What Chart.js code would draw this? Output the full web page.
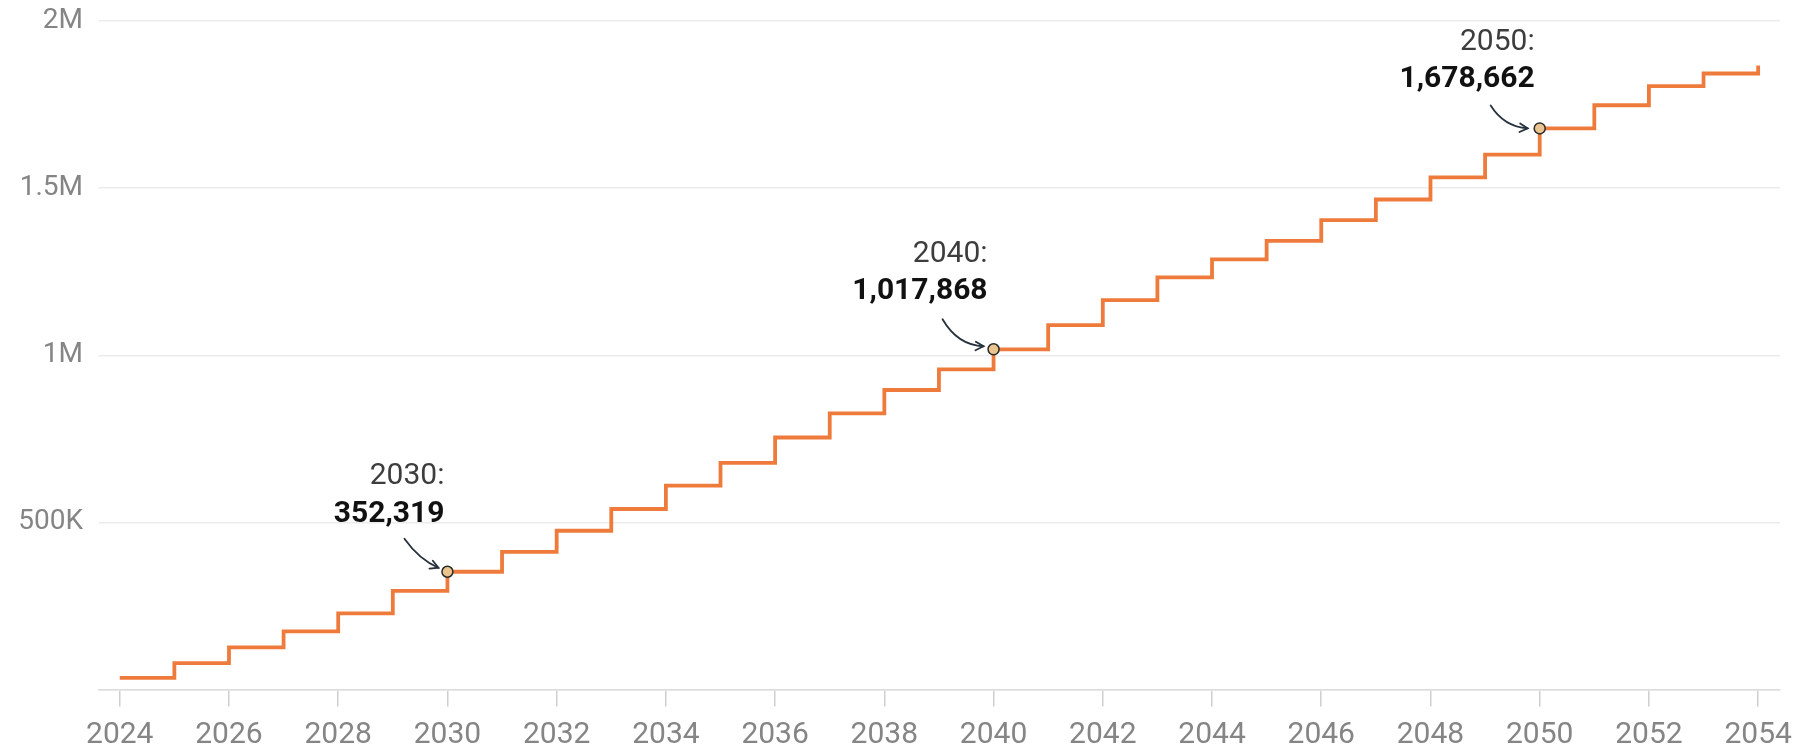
<!DOCTYPE html>
<html>
<head>
<meta charset="utf-8">
<script src="https://cdn.jsdelivr.net/npm/chart.js@4.4.1/dist/chart.umd.min.js"></script>
<style>
  html, body { margin: 0; padding: 0; background: #ffffff; }
  #wrap { width: 1793px; height: 751px; position: relative; }
</style>
</head>
<body>
<div id="wrap"><canvas id="c"></canvas></div>
<script>
// ---- data ----
const years = [2024, 2025, 2026, 2027, 2028, 2029, 2030, 2031, 2032, 2033, 2034,
               2035, 2036, 2037, 2038, 2039, 2040, 2041, 2042, 2043, 2044,
               2045, 2046, 2047, 2048, 2049, 2050, 2051, 2052, 2053, 2054];
const population = [35000, 79000, 126000, 174000, 228000, 295000, 352319, 412000, 475000, 540000, 610000,
                    678000, 754000, 826000, 896000, 958000, 1017868, 1090000, 1165000, 1233000, 1287000,
                    1342000, 1404000, 1466000, 1532000, 1600000, 1678662, 1748000, 1805000, 1843000, 1867000];
const xTickValues = [2024, 2026, 2028, 2030, 2032, 2034, 2036, 2038, 2040, 2042, 2044, 2046, 2048, 2050, 2052, 2054];
const xTickLabels = ['2024', '2026', '2028', '2030', '2032', '2034', '2036', '2038', '2040', '2042', '2044', '2046', '2048', '2050', '2052', '2054'];
const yTickValues = [0, 500000, 1000000, 1500000, 2000000];
const yTickLabels = ['', '500K', '1M', '1.5M', '2M'];
const highlightYears = [2030, 2040, 2050];
const highlightTitles = ['2030:', '2040:', '2050:'];
const highlightLabels = ['352,319', '1,017,868', '1,678,662'];

// ---- annotation layout (pixel offsets from the highlighted point) ----
const annotationLayout = [
  { textDx: -3, titleDy: -88, valueDy: -50, from: [-43, -33], ctrl: [-28, -12], to: [-9, -4] },
  { textDx: -6, titleDy: -87, valueDy: -50, from: [-51, -30], ctrl: [-36, -4], to: [-10, -3] },
  { textDx: -5, titleDy: -78, valueDy: -41, from: [-49, -23], ctrl: [-36, -2], to: [-12, 0] }
];

const FONT = 'Roboto, "Open Sans", "DejaVu Sans", sans-serif';
const points = years.map((yr, i) => ({ x: yr, y: population[i] }));

const annotationPlugin = {
  id: 'annotations',
  afterDatasetsDraw(chart) {
    const ctx = chart.ctx;
    const xs = chart.scales.x, ys = chart.scales.y;
    highlightYears.forEach((yr, k) => {
      const idx = years.indexOf(yr);
      const px = xs.getPixelForValue(yr);
      const py = ys.getPixelForValue(population[idx]);
      const L = annotationLayout[k];
      ctx.save();
      ctx.textAlign = 'right';
      ctx.textBaseline = 'alphabetic';
      ctx.font = '400 30px ' + FONT;
      ctx.fillStyle = '#3d3d3d';
      ctx.fillText(highlightTitles[k], px + L.textDx, py + L.titleDy);
      ctx.font = '700 30px ' + FONT;
      ctx.fillStyle = '#111111';
      ctx.fillText(highlightLabels[k], px + L.textDx, py + L.valueDy);
      // arrow
      const sx = px + L.from[0], sy = py + L.from[1];
      const cx = px + L.ctrl[0], cy = py + L.ctrl[1];
      const tx = px + L.to[0], ty = py + L.to[1];
      ctx.strokeStyle = '#26313b';
      ctx.lineWidth = 1.8;
      ctx.lineCap = 'round';
      ctx.beginPath();
      ctx.moveTo(sx, sy);
      ctx.quadraticCurveTo(cx, cy, tx, ty);
      ctx.stroke();
      const ang = Math.atan2(ty - cy, tx - cx);
      const hl = 9;
      ctx.beginPath();
      ctx.moveTo(tx - hl * Math.cos(ang - 0.5), ty - hl * Math.sin(ang - 0.5));
      ctx.lineTo(tx, ty);
      ctx.lineTo(tx - hl * Math.cos(ang + 0.5), ty - hl * Math.sin(ang + 0.5));
      ctx.stroke();
      ctx.restore();
    });
  }
};

new Chart(document.getElementById('c'), {
  type: 'line',
  data: {
    datasets: [{
      data: points,
      stepped: 'before',
      borderColor: '#ee7b3b',
      borderWidth: 3.8,
      fill: false,
      pointRadius: (c) => highlightYears.includes(years[c.dataIndex]) ? 5.5 : 0,
      pointHoverRadius: 0,
      pointBackgroundColor: '#e9c48e',
      pointBorderColor: '#2a2a2a',
      pointBorderWidth: 1.5
    }]
  },
  options: {
    responsive: true,
    maintainAspectRatio: false,
    animation: false,
    events: [],
    layout: { padding: { top: 21, right: 13, left: 0, bottom: 0 } },
    plugins: { legend: { display: false }, tooltip: { enabled: false } },
    scales: {
      x: {
        type: 'linear',
        min: 2023.62,
        max: 2054.4,
        afterBuildTicks: (axis) => { axis.ticks = xTickValues.map(v => ({ value: v })); },
        afterFit: (axis) => {
          axis.height = 61.5;
          axis.paddingLeft = 0; axis.paddingRight = 0; axis.paddingTop = 0; axis.paddingBottom = 0;
        },
        grid: { drawOnChartArea: false, drawTicks: true, tickLength: 17, color: '#cfcfcf', lineWidth: 1.5 },
        border: { display: true, color: '#dcdcdc', width: 1.5 },
        ticks: {
          autoSkip: false,
          maxRotation: 0,
          padding: 11,
          color: '#858585',
          font: { family: FONT, size: 30 },
          callback: (v) => { const i = xTickValues.indexOf(v); return i >= 0 ? xTickLabels[i] : ''; }
        }
      },
      y: {
        min: 0,
        max: 2000000,
        afterBuildTicks: (axis) => { axis.ticks = yTickValues.map(v => ({ value: v })); },
        afterFit: (axis) => {
          axis.width = 99;
          axis.paddingLeft = 0; axis.paddingRight = 0; axis.paddingTop = 0; axis.paddingBottom = 0;
        },
        grid: { drawTicks: false, color: '#ececec', lineWidth: 1.5 },
        border: { display: false },
        ticks: {
          padding: 16,
          color: '#858585',
          font: { family: FONT, size: 28 },
          callback: (v) => { const i = yTickValues.indexOf(v); return i >= 0 ? yTickLabels[i] : ''; }
        }
      }
    }
  },
  plugins: [annotationPlugin]
});
</script>
</body>
</html>
